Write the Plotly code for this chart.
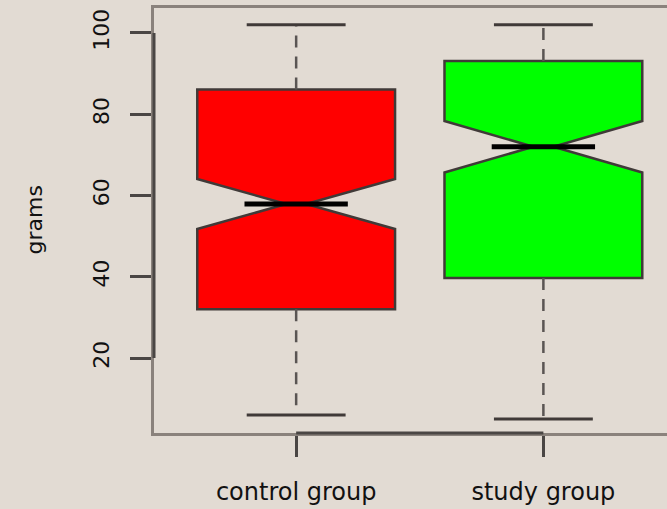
import plotly.graph_objects as go

categories = ["control group", "study group"]
positions = [1, 2]
lower_whisker = [6.0, 5.0]
q1 = [32.0, 39.7]
median = [57.9, 72.0]
q3 = [86.1, 93.1]
upper_whisker = [102.0, 102.0]
notch_span = [6.15, 6.35]
fill_colors = ["#FF0000", "#00FF00"]
y_ticks = [20, 40, 60, 80, 100]

BOX_W = 0.8
NOTCHW = 0.45
CAP_HALF = 0.2
OUTLINE = "#403a38"
WHISK = "#5a5553"
FRAME = "#8a827c"
BG = "#e2dbd3"
FONT = "DejaVu Sans"

fig = go.Figure()

# dashed whiskers and solid staples
for i, p in enumerate(positions):
    for a, b in [(q3[i], upper_whisker[i]), (q1[i], lower_whisker[i])]:
        fig.add_trace(go.Scatter(x=[p, p], y=[a, b], mode="lines",
                                 line=dict(color=WHISK, width=2.5, dash="12px,9px"),
                                 showlegend=False, hoverinfo="skip"))
    for w in (upper_whisker[i], lower_whisker[i]):
        fig.add_trace(go.Scatter(x=[p - CAP_HALF, p + CAP_HALF], y=[w, w], mode="lines",
                                 line=dict(color=OUTLINE, width=3),
                                 showlegend=False, hoverinfo="skip"))

# notched boxes
for i, p in enumerate(positions):
    fig.add_trace(go.Box(
        x=[p], q1=[q1[i]], median=[median[i]], q3=[q3[i]],
        lowerfence=[q1[i]], upperfence=[q3[i]], notchspan=[notch_span[i]],
        notched=True, notchwidth=NOTCHW, width=BOX_W, whiskerwidth=0,
        fillcolor=fill_colors[i], line=dict(color=OUTLINE, width=2.5),
        boxpoints=False, showlegend=False, name=categories[i]))
    half = BOX_W / 2 * (1 - NOTCHW) * 0.95
    fig.add_trace(go.Scatter(x=[p - half, p + half], y=[median[i], median[i]], mode="lines",
                             line=dict(color="#000000", width=5),
                             showlegend=False, hoverinfo="skip"))

# darker axis line segments (R style: first to last tick)
fig.add_shape(type="line", xref="paper", yref="y", x0=0, x1=0,
              y0=min(y_ticks), y1=max(y_ticks), line=dict(color="#4a4644", width=3))
fig.add_shape(type="line", xref="x", yref="paper", x0=min(positions), x1=max(positions),
              y0=0, y1=0, line=dict(color="#4a4644", width=3))

fig.add_annotation(text="grams", xref="paper", yref="paper", x=-(154 - 34) / 513, y=0.5,
                   xanchor="center", yanchor="middle", textangle=-90, showarrow=False,
                   font=dict(family=FONT, size=22, color="#111111"))

fig.update_layout(
    width=667, height=509,
    margin=dict(l=154, r=0, t=8, b=76),
    paper_bgcolor=BG, plot_bgcolor=BG,
    font=dict(family=FONT, color="#111111"),
    xaxis=dict(range=[0.425, 2.5], tickvals=positions, ticktext=categories,
               showgrid=False, zeroline=False, showline=True, mirror=True,
               linecolor=FRAME, linewidth=3, ticks="outside", ticklen=21,
               tickwidth=2.5, tickcolor="#4a4644", tickfont=dict(size=24),
               ticklabelstandoff=14, automargin=False),
    yaxis=dict(range=[1.54, 106.15], tickvals=y_ticks, showgrid=False, zeroline=False,
               showline=True, linecolor=FRAME, linewidth=3, ticks="outside",
               ticklen=21, tickwidth=2.5, tickcolor="#4a4644", tickangle=-90,
               tickfont=dict(size=22), ticklabelstandoff=12, automargin=False),
)

fig.write_html("out.html", config={"displayModeBar": False},
               post_script="document.body.style.margin='0';document.body.style.background='%s';" % BG)
